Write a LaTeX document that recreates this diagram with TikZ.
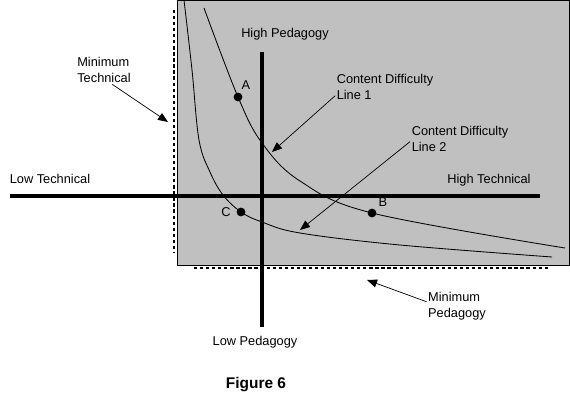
\documentclass[tikz,border=0pt]{standalone}
\usepackage{fontspec}
\setmainfont{Liberation Sans}
\usepackage{xcolor}
\usepackage{tikz}
\usetikzlibrary{arrows.meta}
\definecolor{panelgray}{RGB}{192,192,192}
\tikzset{
  axisline/.style={line width=2.4pt, black},
  diffline/.style={line width=0.6pt, black},
  minline/.style={line width=2.1pt, dash pattern=on 2.3pt off 2pt},
  blob/.style={circle, fill=black, inner sep=0pt, minimum size=0.22cm},
  txt/.style={font=\fontsize{9.1}{11.4}\selectfont, inner sep=1pt, align=left},
  pointer/.style={-{Triangle[length=0.25cm, width=0.2cm]}, line width=0.5pt}
}

\begin{document}
\begin{tikzpicture}
  \useasboundingbox (0,0) rectangle (14.25,10.125);

  % Shaded region
  \fill[panelgray, draw=black, line width=0.7pt] (4.425,3.5) rectangle (14.225,10.11);

  % Minimum lines
  \draw[minline] (4.35,9.875) -- (4.35,3.825);
  \draw[minline] (4.85,3.425) -- (13.7,3.425);

  % Content difficulty lines
  \draw[diffline] plot[smooth, tension=0.6] coordinates {(5.1,9.925) (5.95,7.7) (6.55,6.55) (7.5,5.6) (9.3,4.8) (14.125,3.925)};
  \draw[diffline] plot[smooth, tension=0.6] coordinates {(4.6,10.125) (4.8,8.375) (4.975,6.625) (5.25,5.825) (5.575,5.25) (6.025,4.825) (6.55,4.575) (7.5,4.3) (10,4.0) (13.8,3.7)};

  % Axes
  \draw[axisline] (0.25,5.225) -- (13.5,5.225);
  \draw[axisline] (6.55,8.825) -- (6.55,1.95);

  % Axis labels
  \node[txt] (hiped) at (7.125,9.275) {High Pedagogy};
  \node[txt] (loped) at (6.375,1.575) {Low Pedagogy};
  \node[txt] (lotech) at (1.25,5.65) {Low Technical};
  \node[txt] (hitech) at (12.225,5.625) {High Technical};

  % Points
  \node[blob] (ptA) at (5.95,7.7) {};
  \node[blob] (ptB) at (9.3,4.8) {};
  \node[blob] (ptC) at (6.025,4.825) {};
  \node[txt] (labA) at (6.15,8.0) {A};
  \node[txt] (labB) at (9.575,5.075) {B};
  \node[txt] (labC) at (5.65,4.825) {C};

  % Callouts
  \node[txt] (mintech) at (2.6,8.375) {Minimum\\Technical};
  \node[txt] (cdl1) at (9.625,7.95) {Content Difficulty\\Line 1};
  \node[txt] (cdl2) at (11.5,6.65) {Content Difficulty\\Line 2};
  \node[txt] (minped) at (11.425,2.475) {Minimum\\Pedagogy};
  \coordinate (mintechtip) at (4.2,7.075);
  \coordinate (cdl1tip) at (6.8,6.325);
  \coordinate (cdl2tip) at (7.5,4.375);
  \coordinate (minpedtip) at (9.175,3.125);
  \draw[pointer] (mintech.-60) -- (mintechtip);
  \draw[pointer] (cdl1.190) -- (cdl1tip);
  \draw[pointer] (cdl2.183) -- (cdl2tip);
  \draw[pointer] (minped.172) -- (minpedtip);

  % Caption
  \node[font=\bfseries\fontsize{11}{13}\selectfont] (fig) at (6.4,0.5) {Figure 6};
\end{tikzpicture}
\end{document}
